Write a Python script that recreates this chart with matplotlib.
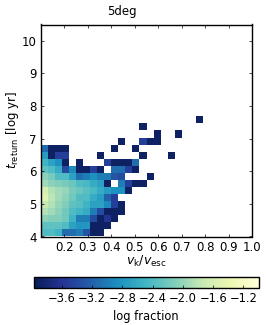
import numpy as np
import matplotlib
matplotlib.use('Agg')
import matplotlib.pyplot as plt

# log fraction per cell, one list per t_return row (bottom row first), starting at the first v_k bin
na = np.nan
row00 = [-2.4, -2.4, -2.5, -3.1, -3.1, -3.0, -3.3, -3.9, -3.9]
row01 = [-2.3, -2.3, -2.3, -2.4, -2.7, -2.8, -2.8, -3.9, -3.9, -3.9]
row02 = [-2.05, -2.1, -2.1, -2.2, -2.5, -3.0, -3.0, -3.4, -3.9, -3.6, -3.9]
row03 = [-1.85, -1.95, -2.05, -2.2, -2.4, -2.5, -2.6, -3.0, -3.4, -3.9, -3.9, -3.9]
row04 = [-1.75, -1.85, -2.0, -2.1, -2.3, -2.35, -2.5, -2.7, -2.7, -2.9, -3.5, -3.9]
row05 = [-1.5, -1.8, -1.95, -2.05, -2.2, -2.4, -2.4, -2.6, -2.75, -3.2, -3.5]
row06 = [-1.6, -1.85, -1.95, -2.0, -2.15, -2.25, -2.35, -2.45, -2.6, -2.75, -2.85, -2.85, -3.9]
row07 = [-1.95, -2.05, -2.1, -2.15, -2.25, -2.4, -2.45, -2.6, -2.7, -3.9, na, -3.0, -3.5, -3.9, -3.9]
row08 = [-2.05, -2.15, -2.4, -2.4, -2.7, -3.1, -3.0, -2.85, -3.0, -3.0, -3.3, -3.4, na, na, na, -3.9]
row09 = [-2.3, -2.4, -2.6, -3.4, -2.9, -3.9, -3.9, -3.5, -3.9, na, -3.1, -3.1, -3.5, -3.9]
row10 = [-2.5, -2.7, -2.85, -3.9, na, -3.9, na, na, na, -3.5, -3.9, -3.9, -3.9, -3.1]
row11 = [-2.75, -3.9, -3.5, -3.5, na, na, na, na, -3.9, na, na, na, na, na, -3.9, na, na, na, -3.9]
row12 = [-3.1, -3.9, -3.9, -3.9, na, na, na, na, na, na, -3.9, na, na, -3.9]
row13 = [na, na, na, na, na, na, na, na, na, na, na, -3.9, na, na, -3.5, -3.9, -3.9]
row14 = [na, na, na, na, na, na, na, na, na, na, na, na, na, na, na, na, -3.9, na, na, -3.9]
row15 = [na, na, na, na, na, na, na, na, na, na, na, na, na, na, -3.9]
row16 = [na, na, na, na, na, na, na, na, na, na, na, na, na, na, na, na, na, na, na, na, na, na, -3.9]
rows = [row00, row01, row02, row03, row04, row05, row06, row07, row08,
        row09, row10, row11, row12, row13, row14, row15, row16]

xticks = [0.2, 0.3, 0.4, 0.5, 0.6, 0.7, 0.8, 0.9, 1.0]
yticks = [4, 5, 6, 7, 8, 9, 10]
cticks = [-3.6, -3.2, -2.8, -2.4, -2.0, -1.6, -1.2]

grid = np.full((30, 30), np.nan)
for i, r in enumerate(rows):
    grid[i, :len(r)] = r
grid = np.ma.masked_invalid(grid)

xedges = np.linspace(0.1, 1.0, 31)
yedges = np.linspace(4, 10.5, 31)

plt.rcParams['axes.linewidth'] = 1.0

W, H = 266.0, 325.0
fig = plt.figure(figsize=(W / 100, H / 100), dpi=100)
ax = fig.add_axes([41 / W, 1 - 236.5 / H, 211 / W, 212 / H])
mesh = ax.pcolormesh(xedges, yedges, grid, cmap='YlGnBu_r', vmin=-3.97, vmax=-1.0)

ax.set_xlim(0.1, 1.0)
ax.set_ylim(4, 10.5)
ax.set_xticks(xticks)
ax.set_xticklabels(['%.1f' % t for t in xticks])
ax.set_yticks(yticks)
ax.tick_params(direction='in', top=True, right=True, length=2, width=0.5,
               labelsize=8.5, pad=3)
ax.set_xlabel(r'$v_{\rm k}/v_{\rm esc}$', fontsize=9, labelpad=0.5)
ax.set_ylabel(r'$t_{\rm return}$ [log yr]', fontsize=8.5, labelpad=0.5)
fig.text(122 / W, 1 - 11 / H, '5deg', fontsize=8.5, ha='center', va='center')

cax = fig.add_axes([34 / W, 1 - 287.5 / H, 224.5 / W, 10.5 / H])
cb = fig.colorbar(mesh, cax=cax, orientation='horizontal', ticks=cticks)
cb.ax.tick_params(direction='in', length=2, width=0.5, labelsize=8.3, pad=3)
cb.set_label('log fraction', fontsize=8.3, labelpad=3.5)

fig.savefig('out.png', dpi=100)
